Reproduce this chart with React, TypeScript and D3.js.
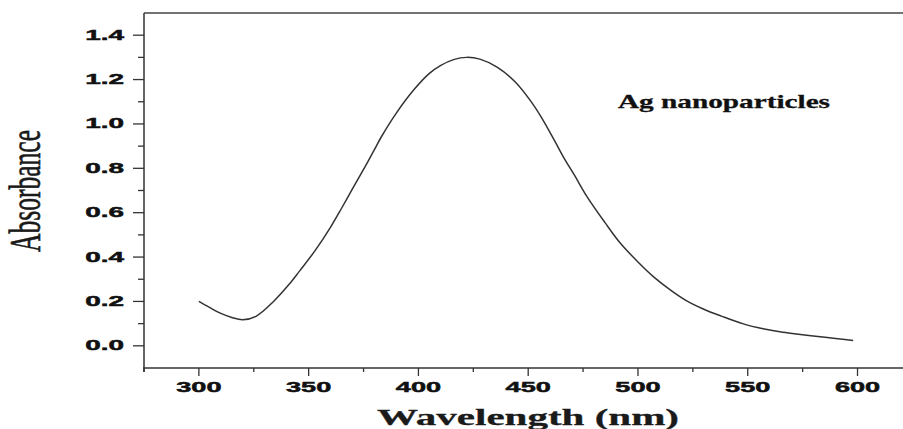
import React from "react";
import * as d3 from "d3";

const wavelengths = [300, 305, 310, 315, 320, 326, 334, 341, 346, 353, 360, 365, 370, 375, 380, 383, 390, 398, 405, 410, 416, 422, 428, 436, 444, 451, 456, 462, 466, 471, 477, 485, 492, 500, 507, 515, 522, 530, 538, 548, 557, 566, 574, 582, 590, 598];
const absorbance = [0.200, 0.172, 0.146, 0.128, 0.118, 0.133, 0.200, 0.276, 0.339, 0.430, 0.535, 0.620, 0.708, 0.795, 0.885, 0.940, 1.050, 1.155, 1.228, 1.263, 1.290, 1.300, 1.292, 1.255, 1.190, 1.105, 1.030, 0.925, 0.852, 0.770, 0.669, 0.555, 0.462, 0.378, 0.312, 0.250, 0.204, 0.165, 0.134, 0.099, 0.077, 0.061, 0.051, 0.042, 0.033, 0.024];

const xMajorTicks = [300, 350, 400, 450, 500, 550, 600];
const xMinorTicks = [275, 325, 375, 425, 475, 525, 575, 625];
const yMajorTicks = [0.0, 0.2, 0.4, 0.6, 0.8, 1.0, 1.2, 1.4];
const yMinorTicks = [0.1, 0.3, 0.5, 0.7, 0.9, 1.1, 1.3];

const xTitle = "Wavelength (nm)";
const yTitle = "Absorbance";
const annotation = "Ag nanoparticles";

export default function App() {
  const W = 903, H = 429;
  const left = 144, top = 13, bottom = 368;
  const x = d3.scaleLinear().domain([275, 625]).range([left, left + 768.4]);
  const y = d3.scaleLinear().domain([-0.1, 1.5]).range([bottom, top]);
  const pts: [number, number][] = wavelengths.map((w, i) => [w, absorbance[i]]);
  const line = d3
    .line<[number, number]>()
    .x((d) => x(d[0]))
    .y((d) => y(d[1]))
    .curve(d3.curveCatmullRom.alpha(0.5));
  const ink = "#1a1a1a";
  const labelFont = "'Liberation Sans', Arial, sans-serif";
  const serif = "'Liberation Serif', 'Times New Roman', serif";
  return (
    <div style={{ position: "fixed", left: 0, top: 0 }}>
      <svg width={W} height={H} style={{ display: "block", background: "#fff" }}>
        {/* frame */}
        <line x1={left} x2={W} y1={top} y2={top} stroke="#444" strokeWidth={1.5} />
        <line x1={left} x2={left} y1={top} y2={bottom + 4} stroke="#333" strokeWidth={1.5} />
        <line x1={left - 1} x2={W} y1={bottom} y2={bottom} stroke="#333" strokeWidth={1.5} />
        {/* y ticks */}
        {yMajorTicks.map((t) => (
          <g key={"ym" + t}>
            <line x1={left - 11} x2={left} y1={y(t)} y2={y(t)} stroke="#333" strokeWidth={1.3} />
            <text
              transform={`translate(${left - 20},${y(t) + 4.5}) scale(1.8,1)`}
              textAnchor="end"
              fontFamily={labelFont}
              fontWeight="bold"
              fontSize={15.5}
              fill="#111"
              stroke="#111"
              strokeWidth={0.5}
            >
              {t.toFixed(1)}
            </text>
          </g>
        ))}
        {yMinorTicks.map((t) => (
          <line key={"yn" + t} x1={left - 6} x2={left} y1={y(t)} y2={y(t)} stroke="#333" strokeWidth={1.3} />
        ))}
        {/* x ticks */}
        {xMajorTicks.map((t) => (
          <g key={"xm" + t}>
            <line x1={x(t)} x2={x(t)} y1={bottom} y2={bottom + 8} stroke="#333" strokeWidth={1.3} />
            <text
              transform={`translate(${x(t)},${bottom + 24}) scale(1.75,1)`}
              textAnchor="middle"
              fontFamily={labelFont}
              fontWeight="bold"
              fontSize={15.5}
              fill="#111"
              stroke="#111"
              strokeWidth={0.5}
            >
              {t}
            </text>
          </g>
        ))}
        {xMinorTicks.map((t) => (
          <line key={"xn" + t} x1={x(t)} x2={x(t)} y1={bottom} y2={bottom + 4} stroke="#333" strokeWidth={1.3} />
        ))}
        {/* curve */}
        <path d={line(pts) || ""} fill="none" stroke="#333" strokeWidth={1.5} />
        {/* annotation */}
        <text
          x={618}
          y={108}
          fontFamily={serif}
          fontWeight="bold"
          fontSize={19}
          fill="#111"
          stroke="#111"
          strokeWidth={0.3}
          textLength={212}
          lengthAdjust="spacingAndGlyphs"
        >
          {annotation}
        </text>
        {/* titles */}
        <text
          x={377}
          y={425}
          fontFamily={serif}
          fontWeight="bold"
          fontSize={24}
          fill={ink}
          stroke={ink}
          strokeWidth={0.3}
          textLength={302}
          lengthAdjust="spacingAndGlyphs"
        >
          {xTitle}
        </text>
        <text
          transform={`translate(40,191) rotate(-90)`}
          textAnchor="middle"
          fontFamily={serif}
          fontSize={45}
          fill={ink}
          stroke={ink}
          strokeWidth={0.6}
          textLength={122}
          lengthAdjust="spacingAndGlyphs"
        >
          {yTitle}
        </text>
      </svg>
    </div>
  );
}
